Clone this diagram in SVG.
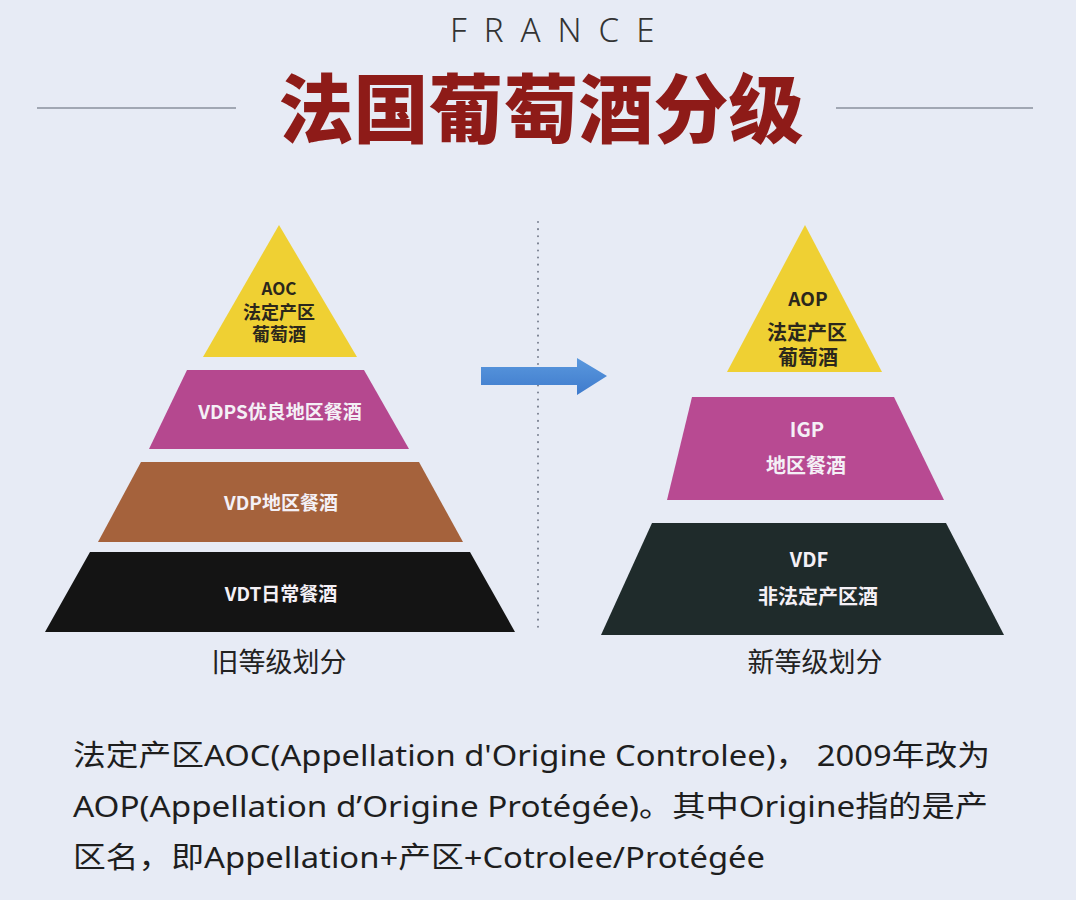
<svg xmlns="http://www.w3.org/2000/svg" width="1076" height="900" viewBox="0 0 1076 900">
<defs>
<linearGradient id="arrowGrad" x1="0" y1="0" x2="0" y2="1">
<stop offset="0" stop-color="#5a98de"/>
<stop offset="1" stop-color="#3f7bcc"/>
</linearGradient>
<style>
.cjk{font-family:"Noto Sans CJK SC","Noto Sans",sans-serif;}
.mix{font-family:"Noto Sans","Noto Sans CJK SC",sans-serif;}
.lbl{font-weight:700;text-anchor:middle;}
.dark{fill:#2b271c;}
.light{fill:#f4f0f6;}
.cap{font-size:27px;fill:#222;text-anchor:middle;font-weight:400;}
.para{font-size:29px;fill:#1e1e1e;font-weight:400;}
.rule{stroke:#8a909c;stroke-width:1.5;}
</style>
</defs>
<rect x="0" y="0" width="1076" height="900" fill="#e7ebf5"/>

<g id="header">
<text x="450" y="42" font-family="Noto Sans, sans-serif" font-weight="300" font-size="33" letter-spacing="17" fill="#333">FRANCE</text>
<line class="rule" x1="37" y1="108" x2="236" y2="108"/>
<line class="rule" x1="836" y1="108" x2="1033" y2="108"/>
<text class="cjk" x="541" y="137" font-size="75" font-weight="900" fill="#8e1b18" text-anchor="middle">法国葡萄酒分级</text>
</g>

<g id="divider">
<line x1="538" y1="222" x2="538" y2="632" stroke="#7a8090" stroke-width="2" stroke-dasharray="0.1 7" stroke-linecap="round"/>
</g>

<g id="old-aoc">
<polygon points="279,225 203,357 357,357" fill="#efd033"/>
<text class="cjk lbl dark" x="279" y="295" font-size="17">AOC</text>
<text class="cjk lbl dark" x="279" y="319" font-size="18">法定产区</text>
<text class="cjk lbl dark" x="279" y="341" font-size="18">葡萄酒</text>
</g>
<g id="old-vdps">
<polygon points="187,370 364,370 409,449 149,449" fill="#b5488f"/>
<text class="cjk lbl light" x="280" y="419" font-size="19">VDPS优良地区餐酒</text>
</g>
<g id="old-vdp">
<polygon points="141,462 419,462 463,542 98,542" fill="#a5623c"/>
<text class="cjk lbl light" x="281" y="510" font-size="19">VDP地区餐酒</text>
</g>
<g id="old-vdt">
<polygon points="90,552 470,552 515,632 45,632" fill="#141414"/>
<text class="cjk lbl light" x="281" y="601" font-size="19">VDT日常餐酒</text>
</g>
<g id="old-caption">
<text class="cjk cap" x="279" y="672">旧等级划分</text>
</g>

<g id="new-aop">
<polygon points="805,225 727,372 882,372" fill="#efd033"/>
<text class="cjk lbl dark" x="808" y="306" font-size="19">AOP</text>
<text class="cjk lbl dark" x="807" y="340" font-size="20">法定产区</text>
<text class="cjk lbl dark" x="808" y="365" font-size="20">葡萄酒</text>
</g>
<g id="new-igp">
<polygon points="692,397 894,397 944,500 667,500" fill="#b84a92"/>
<text class="cjk lbl light" x="807" y="437" font-size="20">IGP</text>
<text class="cjk lbl light" x="806" y="473" font-size="20">地区餐酒</text>
</g>
<g id="new-vdf">
<polygon points="652,523 946,523 1004,635 601,635" fill="#1f2b2b"/>
<text class="cjk lbl light" x="809" y="567" font-size="20">VDF</text>
<text class="cjk lbl light" x="818" y="604" font-size="20">非法定产区酒</text>
</g>
<g id="new-caption">
<text class="cjk cap" x="815" y="672">新等级划分</text>
</g>

<g id="connectors">
<polygon points="481,367 577,367 577,358 607,376 577,395 577,385 481,385" fill="url(#arrowGrad)"/>
</g>

<g id="note">
<text class="mix para" x="73" y="766" textLength="917" lengthAdjust="spacingAndGlyphs">法定产区AOC(Appellation d'Origine Controlee)， 2009年改为</text>
<text class="mix para" x="73" y="817" textLength="915" lengthAdjust="spacingAndGlyphs">AOP(Appellation d’Origine Protégée)。其中Origine指的是产</text>
<text class="mix para" x="73" y="868" textLength="692" lengthAdjust="spacingAndGlyphs">区名，即Appellation+产区+Cotrolee/Protégée</text>
</g>
</svg>
